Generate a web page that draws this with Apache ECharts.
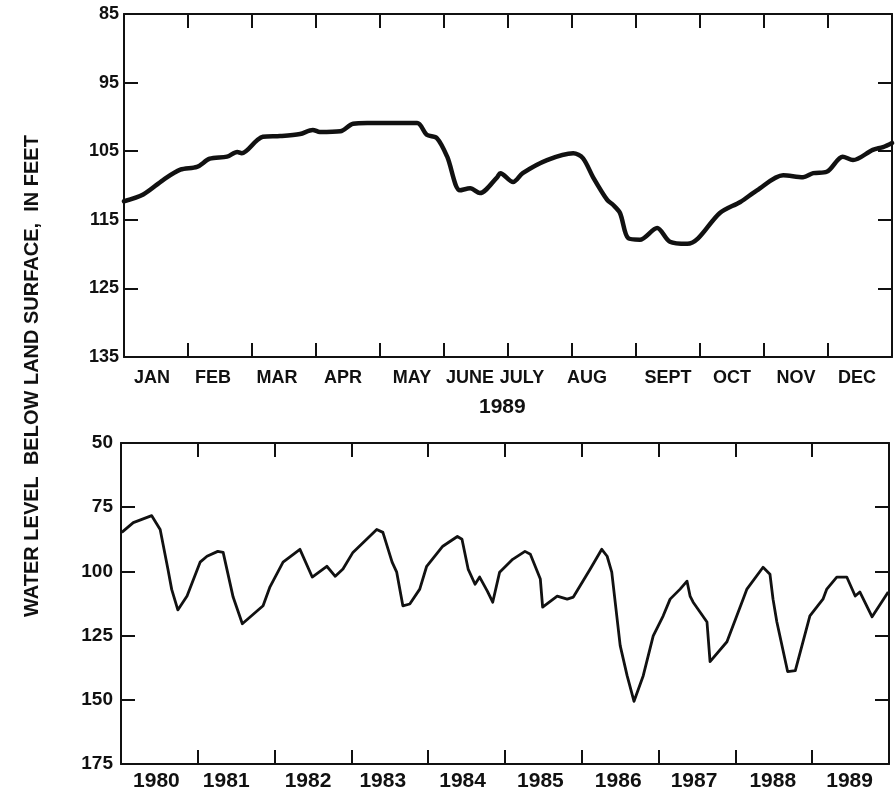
<!DOCTYPE html>
<html>
<head>
<meta charset="utf-8">
<script src="https://cdn.jsdelivr.net/npm/echarts/dist/echarts.min.js"></script>
<style>
html,body{margin:0;padding:0;background:#fff;}
#chart{width:895px;height:792px;}
</style>
</head>
<body>
<div id="chart"></div>
<script>
// ---- Data ----
const monthLabels = ['JAN','FEB','MAR','APR','MAY','JUNE','JULY','AUG','SEPT','OCT','NOV','DEC'];
const yearLabels = ['1980','1981','1982','1983','1984','1985','1986','1987','1988','1989'];
const topTicks = [85, 95, 105, 115, 125, 135];
const bottomTicks = [50, 75, 100, 125, 150, 175];

// 1989 record: position in months since Jan 1, water level (ft below land surface)
const monthPos = [0.00,0.30,0.61,0.88,1.14,1.34,1.61,1.77,1.84,2.08,2.17,2.44,2.75,2.95,3.06,3.38,3.58,3.80,4.58,4.73,4.89,5.05,5.25,5.41,5.56,5.83,5.88,6.08,6.23,6.61,7.02,7.17,7.33,7.55,7.64,7.75,7.88,8.06,8.33,8.53,8.80,8.97,9.31,9.63,9.89,10.30,10.61,10.77,10.98,11.23,11.39,11.70,11.86,12.00];
const level1989 = [112.3,111.3,109.2,107.7,107.3,106.1,105.8,105.1,105.3,103.4,102.9,102.8,102.5,101.9,102.2,102.1,101.0,100.9,100.9,102.6,103.1,105.8,110.7,110.4,111.1,108.8,108.2,109.5,108.2,106.3,105.3,106.0,108.8,112.1,112.8,114.0,117.7,117.9,116.2,118.2,118.5,117.7,114.0,112.4,110.7,108.5,108.8,108.2,108.0,105.8,106.3,104.8,104.4,103.8];

// 1980-89 record: decimal year, water level
const yearPos = [1980.01,1980.16,1980.40,1980.51,1980.61,1980.66,1980.74,1980.86,1981.03,1981.12,1981.26,1981.33,1981.46,1981.58,1981.85,1981.94,1982.11,1982.33,1982.49,1982.68,1982.79,1982.89,1983.02,1983.33,1983.41,1983.53,1983.59,1983.67,1983.76,1983.89,1983.98,1984.19,1984.38,1984.44,1984.52,1984.61,1984.67,1984.77,1984.84,1984.93,1985.10,1985.26,1985.33,1985.46,1985.49,1985.68,1985.81,1985.89,1986.11,1986.26,1986.33,1986.39,1986.50,1986.59,1986.68,1986.80,1986.93,1987.06,1987.15,1987.28,1987.37,1987.41,1987.45,1987.63,1987.67,1987.89,1988.10,1988.15,1988.36,1988.45,1988.49,1988.54,1988.68,1988.78,1988.97,1989.14,1989.19,1989.32,1989.45,1989.56,1989.62,1989.78,1989.99];
const levelDecade = [84.8,81.0,78.3,83.7,99.0,107.0,115.0,109.6,96.4,94.1,92.2,92.6,110.0,120.4,113.4,106.0,96.4,91.4,102.2,98.0,101.9,99.1,92.6,83.7,84.8,96.4,100.3,113.4,112.7,106.9,98.0,90.2,86.4,87.5,99.1,105.0,102.2,107.7,112.0,100.3,95.3,92.2,93.3,103.0,113.9,109.6,110.8,110.0,99.1,91.4,94.1,100.3,128.9,140.6,150.6,140.6,125.1,117.3,110.8,106.9,103.8,109.6,112.0,119.7,135.1,127.4,110.8,106.9,98.4,101.1,110.8,119.7,139.0,138.6,117.3,110.8,106.9,102.2,102.2,109.6,108.0,117.7,108.0];

// ---- Layout / style (label nudges to the left, px) ----
const monthNudge = [4, 7, 7, 5, 0, 6, 18, 17, 0, 0, 0, 3];
const yearNudge = [3, 10, 5, 7, 4, 3, 2, 3, 1, 1];

const FONT = '"Liberation Sans", Arial, Helvetica, sans-serif';
const INK = '#111';
const chart = echarts.init(document.getElementById('chart'), null, {renderer: 'canvas'});

function tickAxis(gridIndex, min, max, interval, position, extra) {
  return Object.assign({
    type: 'value', gridIndex, min, max, interval, position,
    axisLine: {show: true, onZero: false, lineStyle: {color: INK, width: 2}},
    axisTick: {show: true, inside: true, length: 14, lineStyle: {color: INK, width: 2}},
    axisLabel: {show: false},
    splitLine: {show: false}
  }, extra || {});
}

function labelAxis(gridIndex, data, nudge, size, margin) {
  const rich = {};
  nudge.forEach((d, i) => {
    rich['s' + i] = {fontFamily: FONT, fontWeight: 'bold', fontSize: size, color: INK, padding: [0, 2 * d, 0, 0]};
  });
  return {
    type: 'category', gridIndex, data, position: 'bottom', boundaryGap: true,
    axisLine: {show: false}, axisTick: {show: false}, splitLine: {show: false},
    axisLabel: {
      show: true, color: INK, fontFamily: FONT, fontWeight: 'bold', fontSize: size, margin: margin, interval: 0,
      formatter: (v, i) => '{s' + i + '|' + v + '}',
      rich
    }
  };
}

function yLabelAxis(gridIndex, min, max, interval, size, margin) {
  return tickAxis(gridIndex, min, max, interval, 'left', {
    inverse: true,
    axisLabel: {show: true, color: INK, fontFamily: FONT, fontWeight: 'bold', fontSize: size, margin: margin}
  });
}

const option = {
  backgroundColor: '#fff',
  animation: false,
  grid: [
    {left: 124, top: 14, width: 768, height: 343, containLabel: false},
    {left: 121, top: 443, width: 768, height: 323, containLabel: false}
  ],
  xAxis: [
    tickAxis(0, 0, 12, 1, 'bottom'),
    tickAxis(0, 0, 12, 1, 'top'),
    labelAxis(0, monthLabels, monthNudge, 18, 12),
    tickAxis(1, 1980, 1990, 1, 'bottom'),
    tickAxis(1, 1980, 1990, 1, 'top'),
    labelAxis(1, yearLabels, yearNudge, 21, 7)
  ],
  yAxis: [
    yLabelAxis(0, topTicks[0], topTicks[topTicks.length - 1], topTicks[1] - topTicks[0], 18, 5),
    tickAxis(0, topTicks[0], topTicks[topTicks.length - 1], topTicks[1] - topTicks[0], 'right', {inverse: true}),
    yLabelAxis(1, bottomTicks[0], bottomTicks[bottomTicks.length - 1], bottomTicks[1] - bottomTicks[0], 19, 8),
    tickAxis(1, bottomTicks[0], bottomTicks[bottomTicks.length - 1], bottomTicks[1] - bottomTicks[0], 'right', {inverse: true})
  ],
  graphic: [
    {
      type: 'text', left: 479, top: 397,
      style: {text: '1989', font: 'bold 21px ' + FONT, fill: INK}
    },
    {
      type: 'text', x: 32, y: 376, rotation: Math.PI / 2,
      style: {text: 'WATER LEVEL  BELOW LAND SURFACE,  IN FEET', font: 'bold 20px ' + FONT, fill: INK, align: 'center', verticalAlign: 'middle'}
    }
  ],
  series: [
    {
      type: 'line', xAxisIndex: 0, yAxisIndex: 0, showSymbol: false, smooth: 0.3,
      lineStyle: {color: INK, width: 4.5, join: 'round', cap: 'round'},
      data: monthPos.map((m, i) => [m, level1989[i]])
    },
    {
      type: 'line', xAxisIndex: 3, yAxisIndex: 2, showSymbol: false,
      lineStyle: {color: INK, width: 2.8, join: 'round'},
      data: yearPos.map((y, i) => [y, levelDecade[i]])
    }
  ]
};
chart.setOption(option);
</script>
</body>
</html>
